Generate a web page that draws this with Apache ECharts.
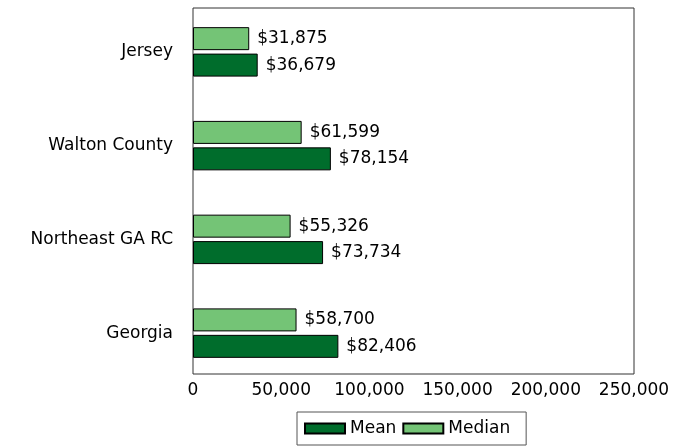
<!DOCTYPE html>
<html>
<head>
<meta charset="utf-8">
<script src="https://cdn.jsdelivr.net/npm/echarts@6/dist/echarts.min.js"></script>
<style>
  html, body { margin: 0; padding: 0; background: #fff; }
  #chart { width: 673px; height: 448px; }
</style>
</head>
<body>
<div id="chart"></div>
<script>
// bottom to top
const regions = ['Georgia', 'Northeast GA RC', 'Walton County', 'Jersey']
const meanIncome = [82406, 73734, 78154, 36679]
const medianIncome = [58700, 55326, 61599, 31875]
const xTicks = [0, 50000, 100000, 150000, 200000, 250000]

const FONT = '"DejaVu Sans", sans-serif'
const FS = 17
const fmt = (v) => v.toLocaleString('en-US')

const chart = echarts.init(document.getElementById('chart'))

const barLabel = {
  show: true,
  position: 'right',
  distance: 8,
  color: '#000',
  fontFamily: FONT,
  fontSize: FS,
  formatter: (p) => '$' + fmt(p.value),
}

chart.setOption({
  animation: false,
  textStyle: { fontFamily: FONT },
  grid: [
    // data grid, a bit taller than the frame so the bars spread like pgfplots
    { left: 193, right: 39, top: 5, bottom: 68, show: false },
    // frame
    { left: 193, right: 39, top: 8, bottom: 74, show: true, borderColor: '#333', borderWidth: 1 },
  ],
  legend: {
    data: ['Mean', 'Median'],
    left: 297,
    top: 412,
    icon: 'rect',
    itemWidth: 40,
    itemHeight: 10,
    itemGap: 6,
    padding: [8, 16, 8, 7],
    borderColor: '#555',
    borderWidth: 1,
    textStyle: { color: '#000', fontSize: FS, fontFamily: FONT },
  },
  xAxis: [
    {
      type: 'value',
      gridIndex: 0,
      min: 0,
      max: 250000,
      interval: 50000,
      axisLine: { show: false },
      axisTick: { show: false },
      splitLine: { show: false },
      axisLabel: {
        color: '#000',
        fontSize: FS,
        fontFamily: FONT,
        margin: 2,
        formatter: (v) => (xTicks.includes(v) ? fmt(v) : ''),
      },
    },
    { type: 'value', gridIndex: 1, show: false, splitLine: { show: false } },
  ],
  yAxis: [
    {
      type: 'category',
      gridIndex: 0,
      data: regions,
      axisLine: { show: false },
      axisTick: { show: false },
      axisLabel: { color: '#000', fontSize: FS, fontFamily: FONT, margin: 20 },
    },
    { type: 'value', gridIndex: 1, show: false, splitLine: { show: false } },
  ],
  series: [
    {
      name: 'Median',
      type: 'bar',
      data: medianIncome,
      barWidth: 23,
      barGap: '15%',
      itemStyle: { color: '#74c476', borderColor: '#000', borderWidth: 1 },
      label: barLabel,
    },
    {
      name: 'Mean',
      type: 'bar',
      data: meanIncome,
      barWidth: 23,
      itemStyle: { color: '#006d2c', borderColor: '#000', borderWidth: 1 },
      label: barLabel,
    },
  ],
})
</script>
</body>
</html>
